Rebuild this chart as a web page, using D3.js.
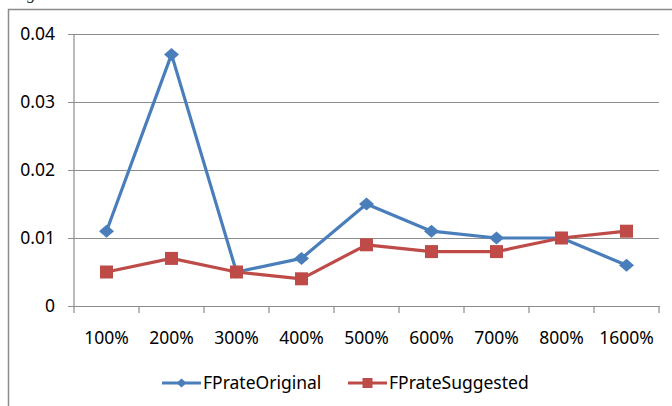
<!DOCTYPE html>
<html>
<head>
<meta charset="utf-8">
<script src="https://cdn.jsdelivr.net/npm/d3@7"></script>
<style>
  html, body { margin: 0; padding: 0; background: #fff; }
  svg { display: block; }
</style>
</head>
<body>
<svg id="chart" width="672" height="406"></svg>
<script>
// Data
const categories = ["100%", "200%", "300%", "400%", "500%", "600%", "700%", "800%", "1600%"];
const fpOriginal  = [0.011, 0.037, 0.005, 0.007, 0.015, 0.011, 0.010, 0.010, 0.006];
const fpSuggested = [0.005, 0.007, 0.005, 0.004, 0.009, 0.008, 0.008, 0.010, 0.011];
const yTicks = [0, 0.01, 0.02, 0.03, 0.04];
const yTickLabels = ["0", "0.01", "0.02", "0.03", "0.04"];
const seriesNames = ["FPrateOriginal", "FPrateSuggested"];

const colors = { original: "#4a7ebb", suggested: "#be4b48" };
const font = "'Noto Sans', 'Open Sans', sans-serif";
const fontSize = 17.5;

const svg = d3.select("#chart");

// Caption fragment from the surrounding text, cut off at the top edge
svg.append("text")
  .attr("x", 8).attr("y", -1)
  .attr("font-family", "'Liberation Serif', serif")
  .attr("font-style", "italic")
  .attr("font-size", 17)
  .attr("fill", "#222")
  .text("target.");

// Chart frame
svg.append("rect")
  .attr("x", 8.5).attr("y", 9.5)
  .attr("width", 700).attr("height", 420)
  .attr("fill", "none")
  .attr("stroke", "#8c8c8c")
  .attr("stroke-width", 1.5);

const plot = { left: 74, right: 659, top: 34, bottom: 306 };

const x = d3.scaleBand().domain(categories).range([plot.left, plot.right]).padding(0);
const y = d3.scaleLinear().domain([0, 0.04]).range([plot.bottom, plot.top]);

// Horizontal gridlines + y tick marks
const yAxis = d3.axisLeft(y)
  .tickValues(yTicks)
  .tickFormat((d, i) => yTickLabels[i])
  .tickSize(-(plot.right - plot.left))
  .tickPadding(19);

const gy = svg.append("g")
  .attr("transform", `translate(${plot.left},0)`)
  .call(yAxis);
gy.select(".domain").remove();
gy.selectAll(".tick line")
  .attr("x1", -6)
  .attr("stroke", "#8c8c8c")
  .attr("stroke-width", 1.2);
gy.selectAll(".tick text")
  .attr("font-family", font)
  .attr("font-size", fontSize)
  .attr("fill", "#000");

// Vertical axis line
svg.append("line")
  .attr("x1", plot.left).attr("x2", plot.left)
  .attr("y1", plot.top).attr("y2", plot.bottom)
  .attr("stroke", "#8c8c8c").attr("stroke-width", 1.2);

// Category axis with tick marks at band edges
const gx = svg.append("g")
  .attr("transform", `translate(0,${plot.bottom})`)
  .call(d3.axisBottom(x).tickSize(0).tickPadding(26));
gx.select(".domain")
  .attr("stroke", "#8c8c8c").attr("stroke-width", 1.2);
gx.selectAll(".tick text")
  .attr("font-family", font)
  .attr("font-size", fontSize)
  .attr("fill", "#000");

const edges = categories.map(c => x(c)).concat([x(categories[categories.length - 1]) + x.bandwidth()]);
gx.selectAll(".edge-tick")
  .data(edges)
  .enter().append("line")
  .attr("class", "edge-tick")
  .attr("x1", d => d).attr("x2", d => d)
  .attr("y1", 0).attr("y2", 7)
  .attr("stroke", "#8c8c8c").attr("stroke-width", 1.2);

const cx = c => x(c) + x.bandwidth() / 2;

function drawSeries(values, color, marker) {
  const pts = categories.map((c, i) => [cx(c), y(values[i])]);
  svg.append("path")
    .attr("d", d3.line()(pts))
    .attr("fill", "none")
    .attr("stroke", color)
    .attr("stroke-width", 3.2)
    .attr("stroke-linejoin", "round");
  svg.append("g").selectAll("path")
    .data(pts)
    .enter().append("path")
    .attr("transform", d => `translate(${d[0]},${d[1]})`)
    .attr("d", marker)
    .attr("fill", color);
}

const diamond = (w, h) => `M0,${-h / 2}L${w / 2},0L0,${h / 2}L${-w / 2},0Z`;
const square = s => `M${-s / 2},${-s / 2}h${s}v${s}h${-s}Z`;

drawSeries(fpOriginal, colors.original, diamond(15, 13));
drawSeries(fpSuggested, colors.suggested, square(13));

// Legend
const legendY = 383;
const legend = [
  { name: seriesNames[0], color: colors.original, x0: 162, x1: 201, text: 203, marker: diamond(10, 9) },
  { name: seriesNames[1], color: colors.suggested, x0: 348, x1: 387, text: 389, marker: square(10) }
];
const lg = svg.append("g");
legend.forEach(d => {
  lg.append("line")
    .attr("x1", d.x0).attr("x2", d.x1)
    .attr("y1", legendY).attr("y2", legendY)
    .attr("stroke", d.color).attr("stroke-width", 3.2);
  lg.append("path")
    .attr("transform", `translate(${(d.x0 + d.x1) / 2},${legendY})`)
    .attr("d", d.marker)
    .attr("fill", d.color);
  lg.append("text")
    .attr("x", d.text).attr("y", legendY)
    .attr("dy", "0.35em")
    .attr("font-family", font)
    .attr("font-size", fontSize)
    .attr("fill", "#000")
    .text(d.name);
});
</script>
</body>
</html>
